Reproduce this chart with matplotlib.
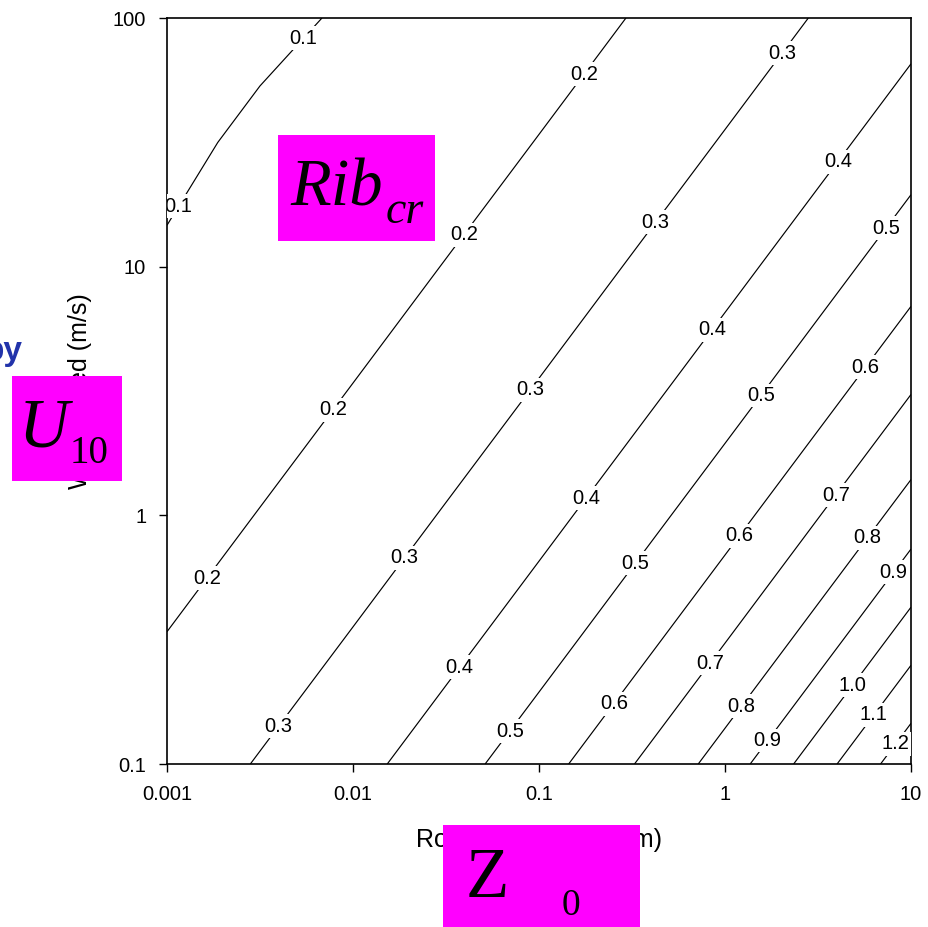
import numpy as np
import matplotlib
matplotlib.use("Agg")
import matplotlib.pyplot as plt
from matplotlib.patches import Rectangle

# ---------------- data ----------------
# roughness length Z0 (m) grid nodes
z0_nodes = [0.001, 0.00316, 0.01, 0.0316, 0.1, 0.316, 1.0, 3.16, 10.0]
# wind speed U10 (m/s) grid nodes
u10_nodes = [0.1, 0.316, 1.0, 3.16, 10.0, 31.6, 100.0]
# critical bulk Richardson number at the nodes (rows: U10, cols: Z0)
rib_u0p1 = [0.248, 0.306, 0.365, 0.460, 0.555, 0.696, 0.842, 1.056, 1.270]
rib_u0p3 = [0.202, 0.248, 0.306, 0.365, 0.460, 0.555, 0.696, 0.842, 1.056]
rib_u1 = [0.171, 0.202, 0.248, 0.306, 0.365, 0.460, 0.555, 0.696, 0.842]
rib_u3 = [0.142, 0.171, 0.202, 0.248, 0.306, 0.365, 0.460, 0.555, 0.696]
rib_u10 = [0.110, 0.142, 0.171, 0.202, 0.248, 0.306, 0.365, 0.460, 0.555]
rib_u30 = [0.080, 0.1166, 0.142, 0.171, 0.202, 0.248, 0.306, 0.365, 0.460]
rib_u100 = [0.050, 0.080, 0.110, 0.142, 0.171, 0.202, 0.248, 0.306, 0.365]

levels = [0.1, 0.2, 0.3, 0.4, 0.5, 0.6, 0.7, 0.8, 0.9, 1.0, 1.1, 1.2]

x_ticks = [0.001, 0.01, 0.1, 1, 10]
x_tick_labels = ["0.001", "0.01", "0.1", "1", "10"]
y_ticks = [0.1, 1, 10, 100]
y_tick_labels = ["0.1", "1", "10", "100"]

# ---------------- figure ----------------
W, H = 929, 927
fig = plt.figure(figsize=(W / 100, H / 100), dpi=100)
plt.rcParams["font.family"] = ["Liberation Sans", "DejaVu Sans"]

L, R, T, B = 167, 911, 18, 764
ax = fig.add_axes([L / W, 1 - B / H, (R - L) / W, (B - T) / H])

lx = np.log10(z0_nodes)
ly = np.log10(u10_nodes)
Z = np.array([rib_u0p1, rib_u0p3, rib_u1, rib_u3, rib_u10, rib_u30, rib_u100])

cs = ax.contour(lx, ly, Z, levels=levels, colors="black", linewidths=0.85)

ax.set_xlim(np.log10(x_ticks[0]), np.log10(x_ticks[-1]))
ax.set_ylim(np.log10(y_ticks[0]), np.log10(y_ticks[-1]))
ax.set_xticks(np.log10(x_ticks))
ax.set_xticklabels(x_tick_labels)
ax.set_yticks(np.log10(y_ticks))
ax.set_yticklabels(y_tick_labels)
ax.tick_params(direction="out", length=6, width=1.0, labelsize=14.5, colors="black")
ax.tick_params(axis="x", pad=9)
ax.tick_params(axis="y", pad=9)
for sp in ax.spines.values():
    sp.set_linewidth(1.2)

# contour label positions (pixel positions in the picture, converted to axes data)
lab_px = [(178, 206), (303, 38),
          (203, 575), (333, 410), (472, 241), (580, 71),
          (277, 725), (402, 556), (532, 391), (654, 221), (780, 52),
          (451, 661), (584, 497), (710, 328), (829, 155),
          (507, 729), (630, 559), (756, 392), (884, 227),
          (609, 700), (737, 534), (860, 363),
          (708, 662), (833, 493),
          (740, 705), (866, 537),
          (767, 740), (893, 572),
          (847, 681), (870, 712), (895, 743)]
manual = [(-3 + (px - L) / 186.0, 2 - (py - T) / 248.67) for px, py in lab_px]
texts = ax.clabel(cs, levels, inline=False, fmt="%.1f", fontsize=14.5, manual=manual)
for t in texts:
    t.set_rotation(0)
    t.set_bbox(dict(boxstyle="square,pad=0.12", facecolor="white", edgecolor="none"))

ax.set_xlabel("Roughness length (m)", fontsize=18, va="center")
ax.xaxis.set_label_coords(0.5, -(840 - B) / (B - T))
ax.set_ylabel("Wind speed (m/s)", fontsize=18, va="center")
ax.yaxis.set_label_coords(-(L - 80) / (R - L), 0.5)

# cut-off blue text on the left
fig.text(23 / W, 1 - 360 / H, "py", color="#2233AA", fontsize=24, fontweight="bold",
         ha="right", va="baseline")

# magenta overlay boxes
def box(x0, y0, x1, y1):
    fig.add_artist(Rectangle((x0 / W, 1 - y1 / H), (x1 - x0) / W, (y1 - y0) / H,
                             transform=fig.transFigure, facecolor="#FF00FF",
                             edgecolor="none", zorder=5))

def ftxt(x, y, s, size, style="normal"):
    fig.text(x / W, 1 - y / H, s, fontsize=size, family=["Liberation Serif", "DejaVu Serif"],
             style=style, ha="left", va="baseline", color="black", zorder=6)

box(278, 135, 435, 241)
ftxt(290, 206, "Rib", 48, "italic")
ftxt(386, 223, "cr", 33, "italic")

box(12, 376, 122, 481)
ftxt(19, 447, "U", 50, "italic")
ftxt(70, 463, "10", 28)

box(443, 825, 640, 927)
ftxt(466, 897, "Z", 51)
ftxt(562, 915, "0", 27)

fig.savefig("out.png", dpi=100)
